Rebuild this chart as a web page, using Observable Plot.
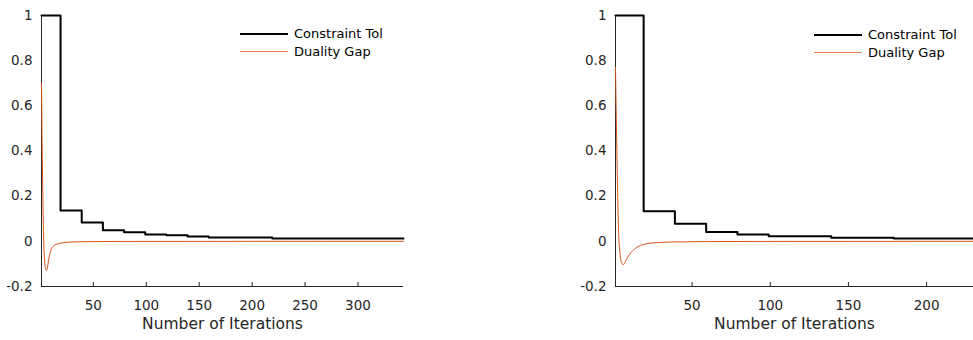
<!DOCTYPE html>
<html>
<head>
<meta charset="utf-8">
<script src="https://cdn.jsdelivr.net/npm/d3@7"></script>
<script src="https://cdn.jsdelivr.net/npm/@observablehq/plot@0.6"></script>
<style>
  html, body { margin: 0; padding: 0; background: #fff; }
  #wrap { position: relative; width: 973px; height: 340px; overflow: hidden; font-family: "DejaVu Sans", "Liberation Sans", Arial, sans-serif; }
  .chart { position: absolute; top: 0; }
  .chart svg { overflow: visible; }
  .leg { position: absolute; font-size: 13px; color: #000; line-height: 18px; white-space: nowrap; }
  .leg .row { position: relative; height: 18px; }
  .leg .ln { position: absolute; left: 0; top: 8px; width: 48px; }
  .leg .tx { position: absolute; left: 54px; top: 0; }
</style>
</head>
<body>
<div id="wrap"></div>
<script>
// ---- data ----
const seriesNames = ["Constraint Tol", "Duality Gap"];
const seriesColors = ["#000000", "#D95319"];
const xLabel = "Number of Iterations";
const yTicks = [-0.2, 0, 0.2, 0.4, 0.6, 0.8, 1];
const yTickLabels = ["-0.2", "0", "0.2", "0.4", "0.6", "0.8", "1"];

// left panel
const leftXDomain = [1, 343];
const leftXTicks = [50, 100, 150, 200, 250, 300];
const leftTolIter = [1, 19, 39, 59, 79, 99, 119, 139, 159, 219, 343];
const leftTolVal  = [1, 0.137, 0.083, 0.049, 0.040, 0.030, 0.027, 0.021, 0.017, 0.012, 0.012];
const leftGapIter = [1, 2, 3, 4, 5, 6, 7, 8, 9, 10, 12, 14, 17, 20, 25, 30, 40, 60, 100, 200, 343];
const leftGapVal  = [0.70, 0.28, 0.02, -0.09, -0.125, -0.128, -0.105, -0.075, -0.052, -0.038, -0.022, -0.015, -0.010, -0.007, -0.004, -0.003, -0.0015, -0.0007, -0.0003, -0.0001, 0];

// right panel
const rightXDomain = [1, 230];
const rightXTicks = [50, 100, 150, 200];
const rightTolIter = [1, 19, 39, 59, 79, 99, 139, 179, 230];
const rightTolVal  = [1, 0.133, 0.078, 0.041, 0.030, 0.022, 0.016, 0.013, 0.013];
const rightGapIter = [1, 2, 3, 4, 5, 6, 7, 8, 9, 10, 12, 14, 17, 20, 25, 30, 40, 60, 100, 230];
const rightGapVal  = [0.77, 0.35, 0.04, -0.06, -0.097, -0.103, -0.095, -0.080, -0.068, -0.058, -0.042, -0.030, -0.018, -0.012, -0.007, -0.0045, -0.0025, -0.001, -0.0004, 0];

// ---- drawing ----
const FONT = '"DejaVu Sans", "Liberation Sans", Arial, sans-serif';
const AX = "#262626";

function makeChart({width, marginLeft, marginRight, xDomain, xTicks, tolIter, tolVal, gapIter, gapVal}) {
  const tol = tolIter.map((x, i) => ({x, y: tolVal[i]}));
  const gap = gapIter.map((x, i) => ({x, y: gapVal[i]}));
  return Plot.plot({
    width, height: 340,
    marginLeft, marginRight, marginTop: 15, marginBottom: 54,
    style: {fontFamily: FONT, fontSize: "13.5px", color: AX, background: "transparent", overflow: "visible"},
    x: {domain: xDomain},
    y: {domain: [yTicks[0], yTicks[yTicks.length - 1]]},
    marks: [
      Plot.ruleX(xTicks, {stroke: AX, insetTop: 267}),
      Plot.axisX({ticks: xTicks, tickSize: 0, tickPadding: 14, label: null, tickFormat: d => String(d), fill: AX}),
      Plot.axisY({ticks: yTicks, tickSize: 0, tickPadding: 9, label: null, tickFormat: d => yTickLabels[yTicks.indexOf(d)], fill: AX}),
      Plot.ruleY([yTicks[0]], {stroke: AX}),
      Plot.ruleX([xDomain[0]], {stroke: AX}),
      Plot.line(tol, {x: "x", y: "y", curve: "step-after", stroke: seriesColors[0], strokeWidth: 2}),
      Plot.line(gap, {x: "x", y: "y", curve: "monotone-x", stroke: seriesColors[1], strokeWidth: 1}),
      Plot.text([xLabel], {text: d => d, frameAnchor: "bottom", dy: 42, fontSize: 15.5, fill: AX})
    ]
  });
}

function addLegend(parent, left, top) {
  const leg = document.createElement("div");
  leg.className = "leg";
  leg.style.left = left + "px";
  leg.style.top = top + "px";
  seriesNames.forEach((name, i) => {
    const row = document.createElement("div");
    row.className = "row";
    const ln = document.createElement("div");
    ln.className = "ln";
    ln.style.borderTop = (i === 0 ? 2 : 1) + "px solid " + seriesColors[i];
    if (i === 1) ln.style.opacity = "0.75";
    const tx = document.createElement("div");
    tx.className = "tx";
    tx.textContent = name;
    row.appendChild(ln); row.appendChild(tx);
    leg.appendChild(row);
  });
  parent.appendChild(leg);
}

const wrap = document.getElementById("wrap");

const left = makeChart({width: 420, marginLeft: 41, marginRight: 17, xDomain: leftXDomain, xTicks: leftXTicks,
  tolIter: leftTolIter, tolVal: leftTolVal, gapIter: leftGapIter, gapVal: leftGapVal});
const leftBox = document.createElement("div");
leftBox.className = "chart"; leftBox.style.left = "0px";
leftBox.appendChild(left); wrap.appendChild(leftBox);

const right = makeChart({width: 413, marginLeft: 55, marginRight: 0, xDomain: rightXDomain, xTicks: rightXTicks,
  tolIter: rightTolIter, tolVal: rightTolVal, gapIter: rightGapIter, gapVal: rightGapVal});
const rightBox = document.createElement("div");
rightBox.className = "chart"; rightBox.style.left = "560px";
rightBox.appendChild(right); wrap.appendChild(rightBox);

addLegend(wrap, 240, 25);
addLegend(wrap, 814, 26);
</script>
</body>
</html>
